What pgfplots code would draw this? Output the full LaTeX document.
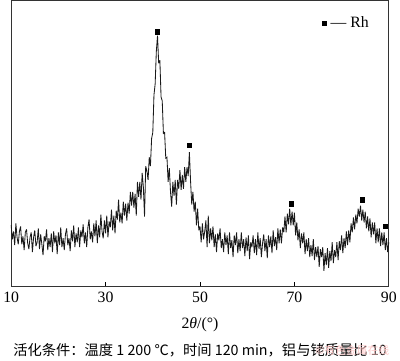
\documentclass[border=0pt]{standalone}
\usepackage{pgfplots}
\pgfplotsset{compat=1.18}
\usepackage{fontspec}
\setmainfont{Liberation Serif}
\newfontfamily\cjk{Noto Sans CJK SC}
\pgfplotstableread{
x y
10.00 62
10.25 48
10.50 56
10.75 42
11.00 64
11.25 50
11.50 43
11.75 56
12.00 61
12.25 43
12.50 51
12.75 37
13.00 55
13.25 58
13.50 44
13.75 38
14.00 50
14.25 55
14.50 35
14.75 50
15.00 57
15.25 41
15.50 45
15.75 59
16.00 38
16.25 53
16.50 43
16.75 32
17.00 51
17.25 46
17.50 58
17.75 37
18.00 49
18.25 40
18.50 54
18.75 35
19.00 56
19.25 44
19.50 52
19.75 33
20.00 55
20.25 42
20.50 60
20.75 40
21.00 49
21.25 37
21.50 53
21.75 59
22.00 42
22.25 49
22.50 36
22.75 57
23.00 46
23.25 62
23.50 40
23.75 54
24.00 45
24.25 60
24.50 40
24.75 57
25.00 50
25.25 63
25.50 44
25.75 55
26.00 40
26.25 60
26.50 68
26.75 48
27.00 56
27.25 45
27.50 64
27.75 51
28.00 67
28.25 44
28.50 62
28.75 50
29.00 73
29.25 56
29.50 49
29.75 67
30.00 54
30.25 72
30.50 50
30.75 66
31.00 60
31.25 78
31.50 57
31.75 72
32.00 54
32.25 77
32.50 68
32.75 88
33.00 65
33.25 75
33.50 64
33.75 86
34.00 72
34.25 84
34.50 67
34.75 85
35.00 74
35.25 96
35.50 82
35.75 96
36.00 80
36.25 94
36.50 72
36.75 106
37.00 91
37.25 106
37.50 88
37.75 115
38.00 101
38.25 71
38.50 122
38.75 117
39.00 108
39.25 131
39.50 122
39.75 150
40.00 156
40.25 194
40.50 205
40.75 238
41.00 254
41.25 226
41.50 229
41.75 192
42.00 188
42.25 155
42.50 156
42.75 130
43.00 131
43.25 106
43.50 120
43.75 96
44.00 81
44.25 106
44.50 92
44.75 108
45.00 83
45.25 108
45.50 99
45.75 118
46.00 98
46.25 113
46.50 99
46.75 121
47.00 106
47.25 121
47.50 112
47.75 136
48.00 107
48.25 83
48.50 96
48.75 76
49.00 86
49.25 62
49.50 79
49.75 57
50.00 61
50.25 45
50.50 64
50.75 48
51.00 56
51.25 67
51.50 40
51.75 72
52.00 44
52.25 59
52.50 47
52.75 61
53.00 40
53.25 53
53.50 35
53.75 54
54.00 47
54.25 59
54.50 39
54.75 48
55.00 35
55.25 55
55.50 42
55.75 52
56.00 33
56.25 55
56.50 39
56.75 47
57.00 30
57.25 52
57.50 42
57.75 55
58.00 34
58.25 48
58.50 36
58.75 55
59.00 39
59.25 48
59.50 31
59.75 50
60.00 36
60.25 52
60.50 28
60.75 45
61.00 40
61.25 52
61.50 34
61.75 48
62.00 32
62.25 55
62.50 38
62.75 49
63.00 30
63.25 44
63.50 53
63.75 36
64.00 48
64.25 29
64.50 52
64.75 40
65.00 51
65.25 34
65.50 57
65.75 41
66.00 50
66.25 37
66.50 59
66.75 44
67.00 58
67.25 44
67.50 60
67.75 55
68.00 71
68.25 55
68.50 74
68.75 63
69.00 79
69.25 62
69.50 76
69.75 62
70.00 75
70.25 52
70.50 65
70.75 47
71.00 58
71.25 39
71.50 54
71.75 44
72.00 55
72.25 33
72.50 48
72.75 36
73.00 49
73.25 30
73.50 42
73.75 31
74.00 48
74.25 27
74.50 40
74.75 30
75.00 41
75.25 20
75.50 38
75.75 30
76.00 40
76.25 16
76.50 34
76.75 22
77.00 39
77.25 19
77.50 36
77.75 26
78.00 45
78.25 24
78.50 37
78.75 30
79.00 45
79.25 27
79.50 46
79.75 37
80.00 52
80.25 34
80.50 49
80.75 39
81.00 56
81.25 42
81.50 57
81.75 45
82.00 64
82.25 55
82.50 70
82.75 58
83.00 73
83.25 64
83.50 79
83.75 71
84.00 82
84.25 67
84.50 78
84.75 65
85.00 76
85.25 59
85.50 71
85.75 56
86.00 69
86.25 50
86.50 65
86.75 53
87.00 65
87.25 44
87.50 59
87.75 45
88.00 59
88.25 41
88.50 55
88.75 42
89.00 55
89.25 37
89.50 49
89.75 35
90.00 45
}\xrd
\pgfplotstableread{
x y
41.0 258
47.7 143
69.3 84
84.3 88
89.2 61
}\peaks
\begin{document}
\begin{tikzpicture}
\begin{axis}[name=ax,
  scale only axis, width=382bp, height=289bp,
  xmin=10, xmax=90, ymin=0, ymax=289,
  xtick={10,30,50,70,90}, ytick=\empty,
  tick align=inside, xtick pos=bottom,
  major tick length=5bp,
  axis line style={line width=1pt, black!80},
  tick style={line width=0.8pt, black},
  ticklabel style={font=\fontsize{16}{18}\selectfont},
  xticklabel style={yshift=-2bp},
  /pgf/number format/assume math mode=true,
  xlabel={\fontsize{16}{18}\selectfont 2\textit{θ}/(°)},
  xlabel style={yshift=-8bp},
  legend style={draw=none, fill=none, at={(0.955,0.955)}, anchor=north east,
    font=\fontsize{16}{18}\selectfont, inner sep=1pt},
  legend cell align=left,
  legend image code/.code={\draw[black, fill=black] (0.2cm,-0.08cm) rectangle (0.36cm,0.08cm);},
  clip=false,
]
\addplot[black!90, line width=0.85pt, line join=miter, miter limit=4, forget plot] table[x=x, y=y] {\xrd};
\addplot[only marks, mark=square*, mark size=2.2pt, black] table[x=x, y=y] {\peaks};
\addlegendentry{\hspace{2bp}— Rh}
\end{axis}
\node[font=\cjk\fontsize{14.5}{16}\selectfont, anchor=center] at ([yshift=-64bp]ax.south) {活化条件：温度 1 200 ℃，时间 120 min，铝与铑质量比 10};
\node[font=\cjk\fontsize{11}{13}\selectfont, text=red!22, anchor=center] at ([xshift=345bp, yshift=-64bp]ax.south west) {©有色金属在线};
\path (ax.south west) ++(-8bp,-75bp) rectangle ([xshift=10bp, yshift=1bp]ax.north east);
\end{tikzpicture}
\end{document}
